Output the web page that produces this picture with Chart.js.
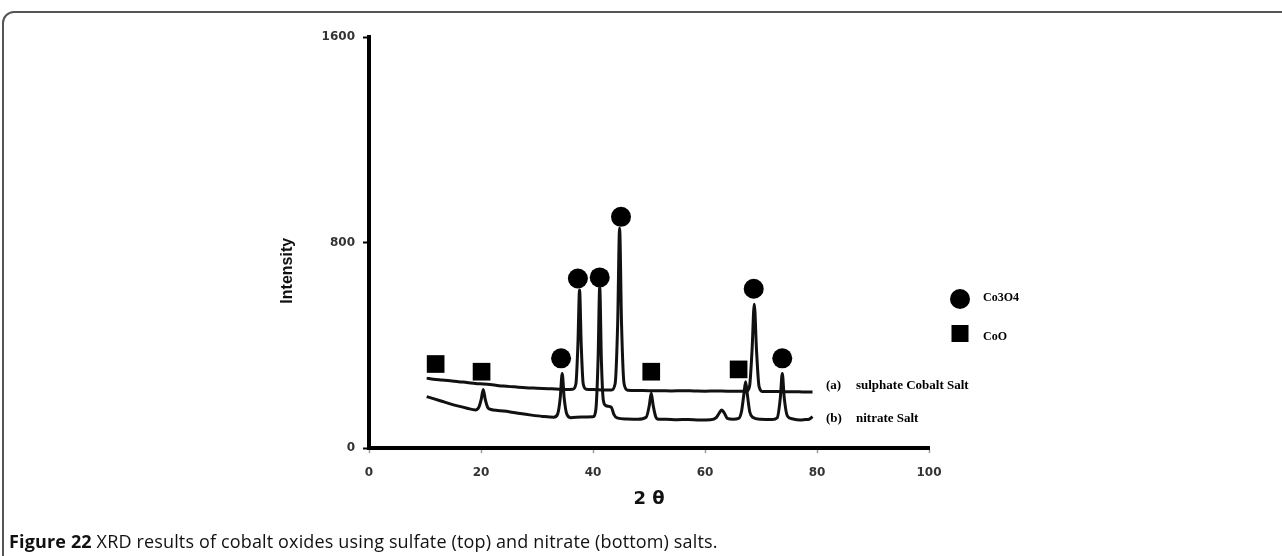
<!DOCTYPE html>
<html>
<head>
<meta charset="utf-8">
<script src="https://cdn.jsdelivr.net/npm/chart.js@4.4.1/dist/chart.umd.min.js"></script>
<style>
  html, body { margin: 0; padding: 0; background: #fff; }
  #wrap { position: relative; width: 1282px; height: 556px; overflow: hidden; }
  #frame {
    position: absolute; left: 2px; top: 11px; width: 1400px; height: 700px;
    border: 2px solid #555; border-radius: 12px; box-sizing: border-box;
  }
  #xrd { position: absolute; left: 0; top: 0; }
  #caption {
    position: absolute; left: 9px; top: 529px;
    font-family: "Open Sans", sans-serif; font-size: 18px; color: #111;
    letter-spacing: 0.15px; white-space: nowrap;
  }
  #caption b { font-weight: 700; }
</style>
</head>
<body>
<div id="wrap">
  <div id="frame"></div>
  <canvas id="xrd" width="1282" height="556"></canvas>
  <div id="caption"><b>Figure 22</b> XRD results of cobalt oxides using sulfate (top) and nitrate (bottom) salts.</div>
</div>
<script>
// (a) sulphate cobalt salt pattern
const sulphateTheta = [10.3, 11.5, 13.0, 14.5, 16.0, 17.5, 19.0, 20.5, 22.0, 24.0, 26.0, 28.0, 30.0, 32.0, 34.0, 35.5, 36.4, 36.95, 37.3, 37.6, 37.9, 38.25, 38.8, 40.0, 42.0, 43.3, 43.95, 44.4, 44.75, 45.1, 45.55, 46.2, 48.0, 50.0, 52.0, 54.0, 56.0, 58.0, 60.0, 62.0, 64.0, 66.0, 67.4, 67.95, 68.4, 68.8, 69.2, 69.65, 70.3, 72.0, 74.0, 76.0, 77.5, 79.2];
const sulphateCounts = [272, 268, 265, 262, 258, 255, 251, 249, 246, 241, 238, 235, 233, 231, 229, 228, 229, 250, 400, 615, 400, 250, 229, 228, 226, 226, 250, 480, 855, 480, 250, 225, 224, 223, 223, 222, 223, 222, 221, 222, 221, 221, 221, 240, 380, 560, 380, 240, 220, 220, 219, 219, 218, 218];

// (b) nitrate salt pattern
const nitrateTheta = [10.3, 11.5, 13.0, 14.5, 16.0, 17.5, 19.0, 19.6, 20.05, 20.4, 20.75, 21.2, 21.8, 23.0, 25.0, 27.0, 29.0, 31.0, 33.0, 33.7, 34.15, 34.5, 34.85, 35.3, 36.0, 38.0, 40.0, 40.5, 40.9, 41.2, 41.5, 41.85, 42.3, 42.8, 43.3, 43.7, 44.3, 46.0, 48.0, 49.5, 50.05, 50.4, 50.75, 51.2, 51.7, 53.0, 55.0, 57.0, 59.0, 61.0, 62.0, 62.6, 63.0, 63.4, 64.0, 65.0, 66.0, 66.5, 66.95, 67.25, 67.55, 68.0, 68.5, 70.0, 72.0, 72.9, 73.45, 73.8, 74.15, 74.7, 75.5, 77.0, 78.0, 78.6, 79.2];
const nitrateCounts = [200, 192, 182, 172, 163, 155, 148, 158, 190, 228, 190, 158, 150, 146, 141, 134, 128, 123, 120, 133, 195, 290, 195, 133, 118, 121, 122, 148, 340, 627, 340, 185, 165, 162, 158, 132, 117, 113, 112, 120, 165, 213, 165, 122, 112, 112, 110, 111, 109, 110, 118, 138, 148, 138, 115, 112, 115, 140, 210, 258, 210, 140, 120, 112, 111, 118, 195, 290, 195, 125, 114, 109, 111, 112, 122];

// peak markers
const co3o4Theta = [34.3, 37.3, 41.2, 45.0, 68.7, 73.8];
const co3o4Level = [349, 660, 664, 900, 620, 349];
const cooTheta = [11.9, 20.1, 50.4, 66.0];
const cooLevel = [327, 297, 297, 306];

const xTicks = [0, 20, 40, 60, 80, 100];
const yTicks = [0, 800, 1600];

const toPoints = (xs, ys) => xs.map((x, i) => ({ x, y: ys[i] }));

// axis title, series names and marker legend
const annotate = {
  id: 'annotate',
  afterDraw(chart) {
    const { ctx, chartArea, scales } = chart;
    ctx.save();
    ctx.fillStyle = '#111';
    ctx.textBaseline = 'middle';
    ctx.textAlign = 'center';

    ctx.save();
    ctx.translate(chartArea.left - 81, scales.y.getPixelForValue(690));
    ctx.rotate(-Math.PI / 2);
    ctx.font = 'bold 16px "Liberation Sans", sans-serif';
    ctx.fillText('Intensity', 0, 0);
    ctx.restore();

    ctx.textAlign = 'left';
    ctx.fillStyle = '#000';
    ctx.font = 'bold 13px "Liberation Serif", serif';
    const lx = scales.x.getPixelForValue(81.6);
    const rows = [
      ['(a)', 'sulphate Cobalt Salt', sulphateCounts[sulphateCounts.length - 1], -6],
      ['(b)', 'nitrate Salt', nitrateCounts[nitrateCounts.length - 1], 2]
    ];
    rows.forEach(([tag, name, v, dy]) => {
      const y = scales.y.getPixelForValue(v) + dy;
      ctx.fillText(tag, lx, y);
      ctx.fillText(name, lx + 30, y);
    });

    // marker legend
    const mx = chartArea.right + 31;
    ctx.beginPath();
    ctx.arc(mx, 299, 10, 0, Math.PI * 2);
    ctx.fill();
    ctx.fillRect(mx - 8.5, 325, 17, 17);
    ctx.font = 'bold 12px "Liberation Serif", serif';
    ctx.fillText('Co3O4', mx + 23, 298);
    ctx.fillText('CoO', mx + 23, 337);
    ctx.restore();
  }
};

const ctx = document.getElementById('xrd').getContext('2d');
new Chart(ctx, {
  type: 'scatter',
  data: {
    datasets: [
      {
        label: 'sulphate Cobalt Salt',
        data: toPoints(sulphateTheta, sulphateCounts),
        showLine: true, borderColor: '#111', borderWidth: 3,
        pointRadius: 0, cubicInterpolationMode: 'monotone'
      },
      {
        label: 'nitrate Salt',
        data: toPoints(nitrateTheta, nitrateCounts),
        showLine: true, borderColor: '#111', borderWidth: 3,
        pointRadius: 0, cubicInterpolationMode: 'monotone'
      },
      {
        label: 'Co3O4',
        data: toPoints(co3o4Theta, co3o4Level),
        pointStyle: 'circle', pointRadius: 10,
        backgroundColor: '#000', borderColor: '#000', borderWidth: 0
      },
      {
        label: 'CoO',
        data: toPoints(cooTheta, cooLevel),
        pointStyle: 'rect', pointRadius: 12.5,
        backgroundColor: '#000', borderColor: '#000', borderWidth: 0
      }
    ]
  },
  options: {
    responsive: false,
    animation: false,
    layout: { padding: { left: 275, right: 353, top: 37, bottom: 42 } },
    plugins: { legend: { display: false }, tooltip: { enabled: false } },
    scales: {
      x: {
        type: 'linear', min: 0, max: 100,
        afterBuildTicks: (s) => { s.ticks = xTicks.map(v => ({ value: v })); },
        afterFit: (s) => { s.height = 66; },
        border: { width: 4, color: '#000' },
        grid: { drawOnChartArea: false, tickLength: 5, tickWidth: 1.5, color: '#999' },
        ticks: {
          padding: 13, color: '#333', callback: (v) => String(v),
          font: { family: 'DejaVu Sans', size: 12, weight: 'bold' }
        },
        title: { display: true, text: '2 θ', color: '#111', font: { family: 'DejaVu Sans', size: 18, weight: 'bold' } }
      },
      y: {
        min: 0, max: 1600,
        afterBuildTicks: (s) => { s.ticks = yTicks.map(v => ({ value: v })); },
        afterFit: (s) => { s.width = 94; },
        border: { width: 4, color: '#000' },
        grid: { drawOnChartArea: false, tickLength: 6, tickWidth: 2, color: '#000' },
        ticks: {
          padding: 8, color: '#333', callback: (v) => String(v),
          font: { family: 'DejaVu Sans', size: 12, weight: 'bold' }
        }
      }
    }
  },
  plugins: [annotate]
});
</script>
</body>
</html>
